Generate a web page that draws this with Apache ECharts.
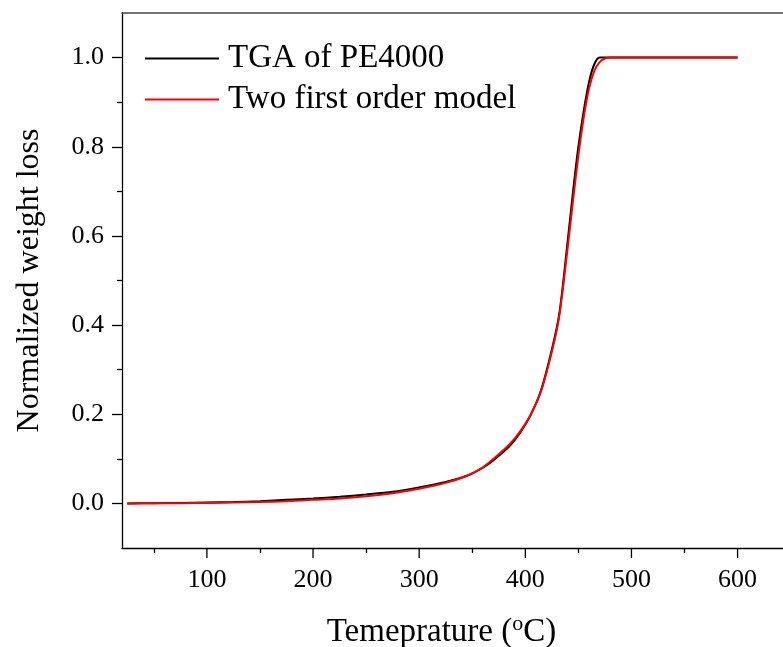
<!DOCTYPE html>
<html><head><meta charset="utf-8">
<script src="https://cdn.jsdelivr.net/npm/echarts@6/dist/echarts.min.js"></script>
<style>html,body{margin:0;padding:0;background:#fff}#c{width:783px;height:647px}</style>
</head><body><div id="c"></div>
<script>
const tgaT = [25,50,75,100,125,150,175,200,225,250,275,300,325,345,360,370,385,395,405,415,425,432,440,445,450,455,460,465,470,480,500,550,600];
const tgaV = [0,0.0005,0.001,0.002,0.003,0.005,0.008,0.011,0.015,0.020,0.026,0.036,0.048,0.062,0.080,0.097,0.128,0.158,0.198,0.255,0.345,0.425,0.590,0.700,0.800,0.880,0.945,0.985,1.0,1.0,1.0,1.0,1.0];
const modT = [25,50,75,100,125,150,175,200,225,250,275,300,325,345,360,370,385,395,405,415,425,432,440,445,450,455,460,465,470,475,480,500,550,600];
const modV = [0,0.0002,0.0005,0.001,0.002,0.003,0.005,0.008,0.011,0.016,0.023,0.033,0.046,0.062,0.081,0.100,0.132,0.161,0.199,0.253,0.340,0.420,0.575,0.680,0.780,0.865,0.930,0.970,0.990,0.998,1.0,1.0,1.0,1.0];
const xMajor = [100,200,300,400,500,600];
const xMinor = [50,150,250,350,450,550];
const yMajor = [0.0,0.2,0.4,0.6,0.8,1.0];
const yMinor = [0.1,0.3,0.5,0.7,0.9];
const seriesNames = ['TGA of PE4000','Two first order model'];

const FF = '"Liberation Serif","Times New Roman",serif';
const toPairs = (a,b)=>a.map((v,i)=>[v,b[i]]);
const chart = echarts.init(document.getElementById('c'));
const X_MIN = 20, X_MAX = 642.8, Y_MIN = -0.1, Y_MAX = 1.1;
const tickAxis = (vals,len)=>({type:'value',position:'bottom',offset:len,min:X_MIN,max:X_MAX,splitLine:{show:false},
  axisLine:{show:false,onZero:false},
  axisTick:{show:true,inside:true,length:len,customValues:vals,lineStyle:{color:'#000',width:1.3}},
  axisLabel:{show:false}});
chart.setOption({
  backgroundColor:'#fff',
  animation:false,
  grid:{left:122,top:13,bottom:99,right:0,containLabel:false,outerBoundsMode:'none'},
  legend:{
    orient:'vertical',left:145,top:42,padding:0,itemWidth:74,itemHeight:2,itemGap:8,icon:'rect',
    data:seriesNames,
    textStyle:{fontFamily:FF,fontSize:33,color:'#000',padding:[0,0,0,4]}
  },
  xAxis:[
    {type:'value',position:'bottom',min:X_MIN,max:X_MAX,splitLine:{show:false},
      name:'{a|Temeprature (}{s|o}{a|C)}',nameLocation:'middle',nameGap:65,
      nameTextStyle:{padding:[0,22,0,0],rich:{a:{fontFamily:FF,fontSize:33,color:'#000'},s:{fontFamily:FF,fontSize:22,color:'#000',padding:[0,0,16,0]}}},
      axisLine:{show:true,onZero:false,lineStyle:{color:'#000',width:1.3}},
      axisTick:{show:false},
      axisLabel:{show:true,customValues:xMajor,margin:19,fontFamily:FF,fontSize:26,color:'#000'}
    },
    tickAxis(xMinor,5),
    {type:'value',position:'top',min:X_MIN,max:X_MAX,splitLine:{show:false},
      axisLine:{show:true,onZero:false,lineStyle:{color:'#444',width:1.5}},
      axisTick:{show:false},axisLabel:{show:false}
    }
  ],
  yAxis:[
    {type:'value',min:Y_MIN,max:Y_MAX,position:'left',splitLine:{show:false},
      name:'Normalized weight loss',nameLocation:'middle',nameGap:76,nameRotate:90,
      nameTextStyle:{fontFamily:FF,fontSize:32,color:'#000'},
      axisLine:{show:true,onZero:false,lineStyle:{color:'#000',width:1.3}},
      axisTick:{show:true,inside:false,length:10,customValues:yMajor,lineStyle:{color:'#000',width:1.3}},
      axisLabel:{show:true,customValues:yMajor,margin:18,fontFamily:FF,fontSize:26,color:'#000',formatter:v=>v.toFixed(1)}
    },
    {type:'value',min:Y_MIN,max:Y_MAX,position:'left',offset:0.01,splitLine:{show:false},
      axisLine:{show:false,onZero:false},
      axisTick:{show:true,inside:false,length:5,customValues:yMinor,lineStyle:{color:'#000',width:1.3}},
      axisLabel:{show:false}
    }
  ],
  series:[
    {name:seriesNames[0],type:'line',data:toPairs(tgaT,tgaV),smooth:0.3,symbol:'none',
     lineStyle:{color:'#000',width:2},itemStyle:{color:'#000'},xAxisIndex:0,yAxisIndex:0},
    {name:seriesNames[1],type:'line',data:toPairs(modT,modV),smooth:0.3,symbol:'none',
     lineStyle:{color:'#ff0000',width:2},itemStyle:{color:'#ff0000'},xAxisIndex:0,yAxisIndex:0},
    {name:'xMajorTicks',type:'custom',xAxisIndex:0,yAxisIndex:0,clip:false,silent:true,z:5,
     data:xMajor.map(v=>[v,Y_MIN]),
     renderItem:(params,api)=>{
       const p = api.coord([api.value(0), api.value(1)]);
       return {type:'line',shape:{x1:p[0],y1:p[1],x2:p[0],y2:p[1]+10},style:{stroke:'#000',lineWidth:1.3}};
     }}
  ]
});
</script></body></html>
